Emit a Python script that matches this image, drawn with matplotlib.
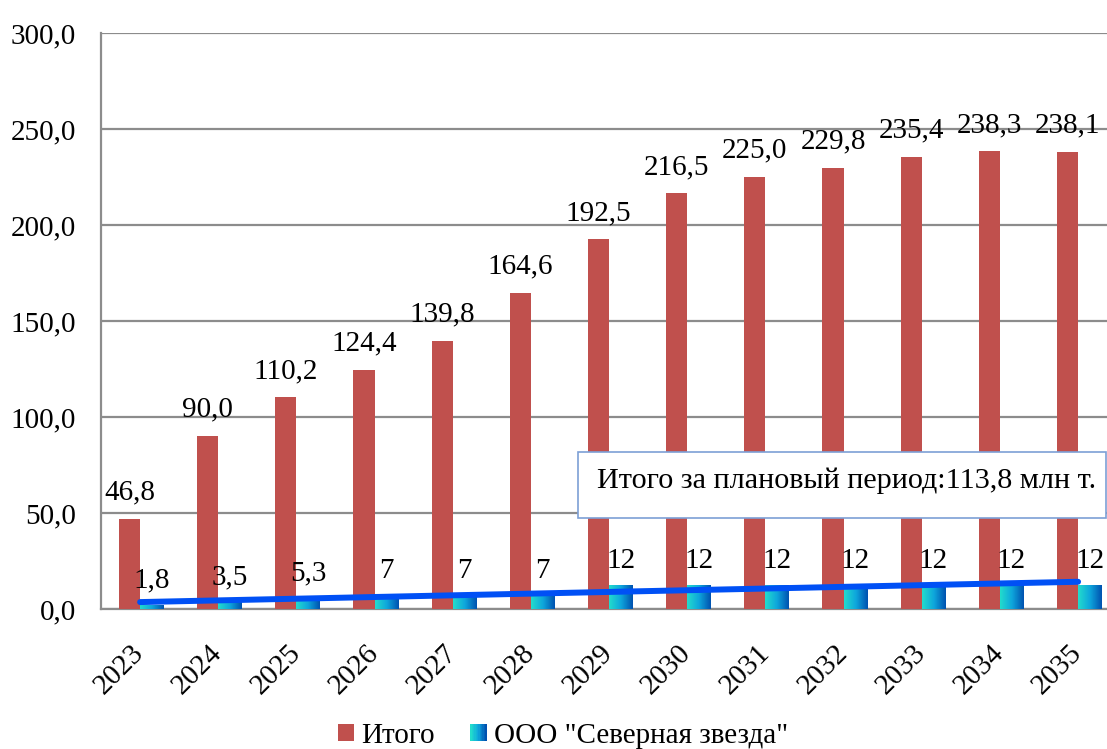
import matplotlib
matplotlib.use("Agg")
from matplotlib import pyplot as plt
from matplotlib.colors import LinearSegmentedColormap
from matplotlib.legend_handler import HandlerBase
from matplotlib.patches import Rectangle
import numpy as np

years = ["2023", "2024", "2025", "2026", "2027", "2028", "2029",
         "2030", "2031", "2032", "2033", "2034", "2035"]
total = [46.8, 90.0, 110.2, 124.4, 139.8, 164.6, 192.5,
         216.5, 225.0, 229.8, 235.4, 238.3, 238.1]
severnaya = [1.8, 3.5, 5.3, 7, 7, 7, 12, 12, 12, 12, 12, 12, 12]
y_ticks = [0, 50, 100, 150, 200, 250, 300]
summary_text = "Итого за плановый период:113,8 млн т."

RED = "#c0504d"
GRID = "#8c8c8c"
TREND = "#0050f5"
grad_cmap = LinearSegmentedColormap.from_list(
    "sev", ["#22dccc", "#0ea6dc", "#0052b0"])

plt.rcParams["font.family"] = ["Liberation Serif", "DejaVu Serif"]
plt.rcParams["font.size"] = 21


def comma(v, fmt):
    return format(v, fmt).replace(".", ",")


class GradientHandler(HandlerBase):
    # legend key filled with vertical stripes of the bar gradient
    def create_artists(self, legend, orig_handle, xdescent, ydescent,
                       width, height, fontsize, trans):
        n = 12
        arts = []
        for k in range(n):
            arts.append(Rectangle((-xdescent + width * k / n, -ydescent),
                                  width / n + 0.3, height,
                                  facecolor=grad_cmap(k / (n - 1)),
                                  edgecolor="none", transform=trans))
        return arts


fig = plt.figure(figsize=(11.07, 7.49), dpi=100)
ax = fig.add_axes([101 / 1107, 140 / 749, 1006 / 1107, 576 / 749])

x = np.arange(len(years))
red_w = 0.27
sev_w = 0.295

bars_total = ax.bar(x, total, width=-red_w, align="edge", color=RED,
                    zorder=3, label="Итого")
bars_sev = ax.bar(x, severnaya, width=sev_w, align="edge", color="#0ea6dc",
                  zorder=3, label='ООО "Северная звезда"')

# horizontal gradient inside each small bar
grad = np.linspace(0, 1, 64).reshape(1, -1)
for b in bars_sev:
    x0, w, h = b.get_x(), b.get_width(), b.get_height()
    ax.imshow(grad, extent=(x0, x0 + w, 0, h), aspect="auto",
              cmap=grad_cmap, interpolation="bilinear", zorder=3.1)

# linear trend of the small series
k, c = np.polyfit(x, severnaya, 1)
ax.plot([x[0], x[-1]], [c + k * x[0], c + k * x[-1]], color=TREND,
        lw=4.3, solid_capstyle="round", zorder=4)

for b, v in zip(bars_total, total):
    ax.annotate(comma(v, ".1f"), (b.get_x() + b.get_width() / 2, v),
                xytext=(0, 19), textcoords="offset points",
                ha="center", va="center", zorder=5)
for b, v in zip(bars_sev, severnaya):
    ax.annotate(comma(v, "g"), (b.get_x() + b.get_width() / 2, v),
                xytext=(0, 18), textcoords="offset points",
                ha="center", va="center", zorder=5)

ax.set_xlim(-0.5, 12.37)
ax.set_ylim(0, 300)
ax.set_yticks(y_ticks)
ax.set_yticklabels([comma(v, ".1f") for v in y_ticks])
ax.set_xticks(x)
ax.set_xticklabels(years, rotation=45, ha="right", va="center",
                   rotation_mode="anchor")
ax.tick_params(axis="y", length=0, pad=18)
ax.tick_params(axis="x", length=0, pad=29)

ax.yaxis.grid(True, color=GRID, lw=1.6, zorder=0)
ax.set_axisbelow(True)
for side in ("top", "right"):
    ax.spines[side].set_visible(False)
for side in ("left", "bottom"):
    ax.spines[side].set_color(GRID)
    ax.spines[side].set_linewidth(1.6)

# summary box
ax.add_patch(Rectangle((578 / 1107, 1 - 518 / 749), 528 / 1107, 66 / 749,
                       transform=fig.transFigure, facecolor="white",
                       edgecolor="#7da0d6", lw=1.2, clip_on=False, zorder=6))
ax.text(597 / 1107, 1 - 481 / 749, summary_text, transform=fig.transFigure,
        ha="left", va="center", fontsize=21.7, zorder=7)

fig.legend([bars_total, bars_sev],
           ["Итого", 'ООО "Северная звезда"'],
           handler_map={bars_sev: GradientHandler()},
           loc="center", bbox_to_anchor=(563 / 1107, 1 - 736 / 749),
           ncol=2, frameon=False, fontsize=21,
           handlelength=0.55, handleheight=0.55, handletextpad=0.25,
           columnspacing=1.2)

fig.savefig("out.png", dpi=100)
